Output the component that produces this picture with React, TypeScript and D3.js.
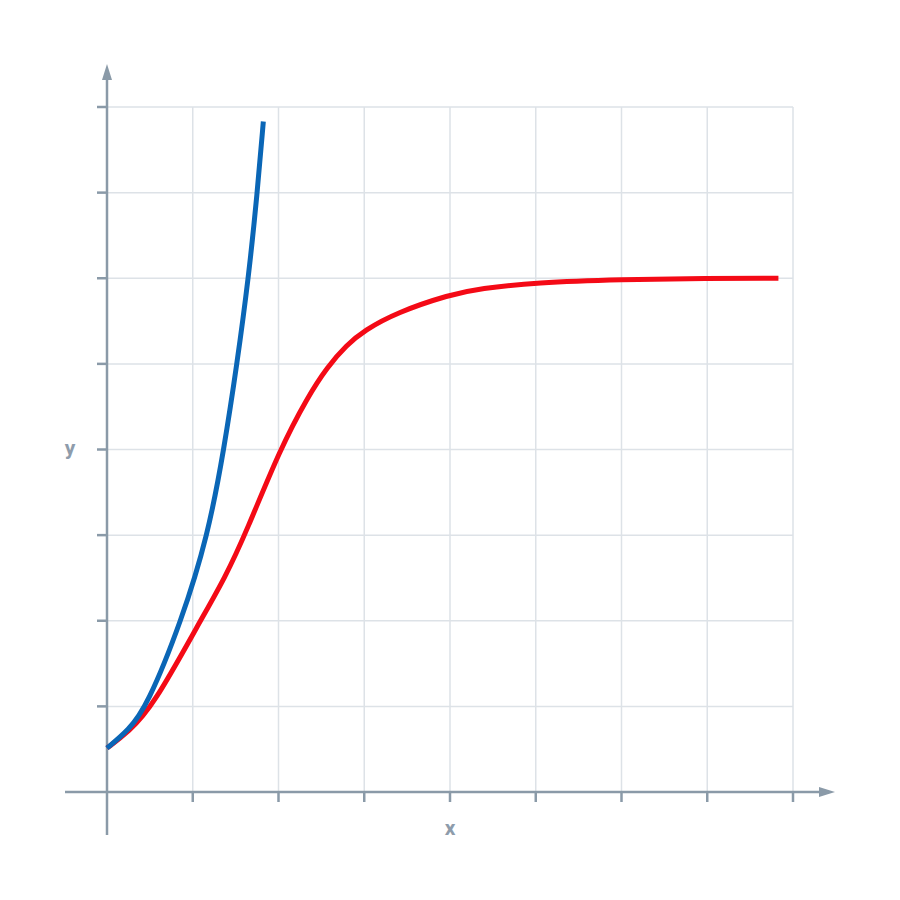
import React from "react";
import * as d3 from "d3";

const gridTicks = [0, 1, 2, 3, 4, 5, 6, 7, 8];

const blueX = [0, 0.25, 0.466, 0.87, 1.178, 1.364, 1.516, 1.65, 1.753, 1.823];
const blueY = [0.513, 0.72, 1.0, 2.0, 3.0, 4.0, 5.0, 6.0, 7.0, 7.83];

const redX = [0, 0.25, 0.536, 1.085, 1.376, 1.63, 2.015, 2.344, 2.566, 2.795, 3.0, 3.378, 4.0, 4.35, 5.0, 6.0, 7.0, 7.83];
const redY = [0.513, 0.7, 1.0, 1.994, 2.5, 3.05, 4.0, 4.62, 4.96, 5.22, 5.39, 5.6, 5.81, 5.88, 5.95, 5.985, 5.998, 6.0];

const AXIS = "#8a9aa8";
const GRID = "#dde2e7";

export default function App() {
  const x = d3.scaleLinear().domain([0, 8]).range([107, 793]);
  const y = d3.scaleLinear().domain([0, 8]).range([792, 107]);

  const line = d3
    .line<[number, number]>()
    .x((d) => x(d[0]))
    .y((d) => y(d[1]))
    .curve(d3.curveBasis);

  const blue = blueX.map((v, i) => [v, blueY[i]] as [number, number]);
  const red = redX.map((v, i) => [v, redY[i]] as [number, number]);

  const x0 = x(0);
  const y0 = y(0);

  return (
    <svg
      width={900}
      height={900}
      style={{ position: "absolute", left: 0, top: 0, background: "#fff" }}
    >
      {/* grid */}
      {gridTicks.slice(1).map((t) => (
        <line
          key={"gv" + t}
          x1={x(t)}
          x2={x(t)}
          y1={y(0)}
          y2={y(8)}
          stroke={GRID}
          strokeWidth={1.5}
        />
      ))}
      {gridTicks.slice(1).map((t) => (
        <line
          key={"gh" + t}
          x1={x(0)}
          x2={x(8)}
          y1={y(t)}
          y2={y(t)}
          stroke={GRID}
          strokeWidth={1.5}
        />
      ))}
      {/* ticks */}
      {gridTicks.slice(1).map((t) => (
        <line
          key={"ty" + t}
          x1={x0 - 10}
          x2={x0}
          y1={y(t)}
          y2={y(t)}
          stroke={AXIS}
          strokeWidth={2.5}
        />
      ))}
      {gridTicks.slice(1).map((t) => (
        <line
          key={"tx" + t}
          x1={x(t)}
          x2={x(t)}
          y1={y0}
          y2={y0 + 10}
          stroke={AXIS}
          strokeWidth={2.5}
        />
      ))}
      {/* axes */}
      <line x1={65} x2={822} y1={y0} y2={y0} stroke={AXIS} strokeWidth={2.5} />
      <line x1={x0} x2={x0} y1={835} y2={78} stroke={AXIS} strokeWidth={2.5} />
      <path d={`M835,${y0} L819,${y0 - 5} L819,${y0 + 5} Z`} fill={AXIS} />
      <path d={`M${x0},64 L${x0 - 5},80 L${x0 + 5},80 Z`} fill={AXIS} />
      {/* labels */}
      <text
        x={450}
        y={835}
        textAnchor="middle"
        fontFamily="Roboto, 'Open Sans', sans-serif"
        fontSize={21}
        fontWeight="bold"
        fill="#8e9cab"
      >
        x
      </text>
      <text
        x={70}
        y={455}
        textAnchor="middle"
        fontFamily="Roboto, 'Open Sans', sans-serif"
        fontSize={21}
        fontWeight="bold"
        fill="#8e9cab"
      >
        y
      </text>
      {/* curves */}
      <path d={line(red) || ""} fill="none" stroke="#f40a16" strokeWidth={5} />
      <path d={line(blue) || ""} fill="none" stroke="#0a66b6" strokeWidth={5} />
    </svg>
  );
}
